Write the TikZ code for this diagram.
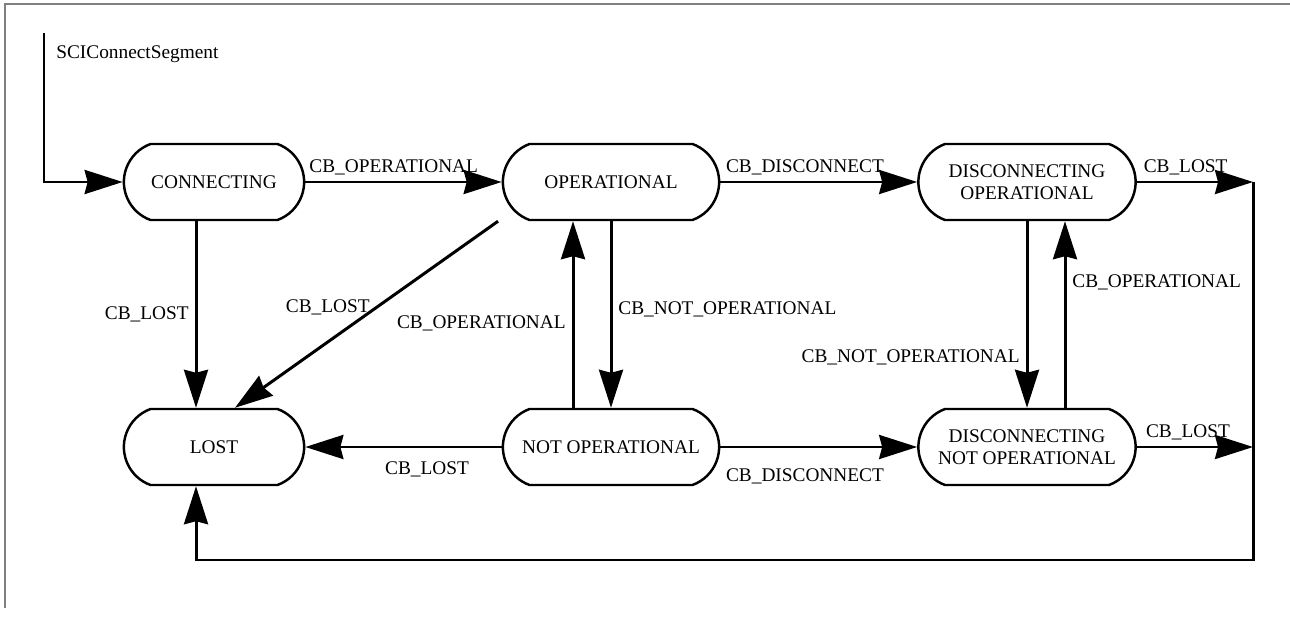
\documentclass[tikz,border=0pt]{standalone}
\usepackage{fontspec}
\setmainfont{Liberation Serif}
\usetikzlibrary{
    arrows.meta,
    shapes.misc,
    calc
}

\tikzset{
    state/.style={draw, line width=1.4pt, rounded rectangle,
        rounded rectangle arc length=140, minimum height=1.52cm,
        align=center, font=\fontsize{11}{12.5}\selectfont},
    trans/.style={line width=1.7pt, -{Stealth[length=0.76cm,width=0.48cm,inset=0.06cm]}},
    every node/.append style={font=\fontsize{11}{13}\selectfont}
}

\begin{document}
\begin{tikzpicture}[x=0.02cm, y=-0.02cm]
    \useasboundingbox (0,0) rectangle (1290,618);
    \draw[gray, line width=0.8pt] (5,608) -- (5,4) -- (1290,4);

    % states
    \node[state, minimum width=3.84cm] (conn) at (214,182) {CONNECTING};
    \node[state, minimum width=4.56cm] (oper) at (611,182) {OPERATIONAL};
    \node[state, minimum width=4.58cm] (discoper) at (1027,182) {DISCONNECTING\\OPERATIONAL};
    \node[state, minimum width=3.84cm] (lost) at (214,447) {LOST};
    \node[state, minimum width=4.56cm] (notoper) at (611,447) {NOT OPERATIONAL};
    \node[state, minimum width=4.58cm] (discnotoper) at (1027,447) {DISCONNECTING\\NOT OPERATIONAL};

    \coordinate (start) at (44,33);
    \coordinate (outtop) at (1253,182);
    \coordinate (outbot) at (1253,447);
    \coordinate (outcorner) at (1253,560);

    % transitions
    \draw[trans] (start) |- node[pos=0.07, right, xshift=1mm]{SCIConnectSegment} (conn.west);
    \draw[trans] (conn.east) -- node[above, pos=0.45]{CB\_OPERATIONAL} (oper.west);
    \draw[trans] (oper.east) -- node[above, pos=0.43]{CB\_DISCONNECT} (discoper.west);
    \draw[trans] (discoper.east) -- node[above, pos=0.42]{CB\_LOST} (outtop);
    \draw[trans] (discnotoper.east) -- node[above, pos=0.44]{CB\_LOST} (outbot);
    \draw[trans] (outtop) -- (outcorner) -| ([xshift=-0.36cm]lost.south);

    \draw[trans] ([xshift=-0.36cm]conn.south) -- node[left]{CB\_LOST} ([xshift=-0.36cm]lost.north);
    \draw[trans] ([xshift=-2.26cm]oper.south) -- node[left, pos=0.46]{CB\_LOST} ([xshift=0.42cm]lost.north);
    \draw[trans] (oper.south) -- node[right, pos=0.47]{CB\_NOT\_OPERATIONAL} (notoper.north);
    \draw[trans] ([xshift=-0.76cm]notoper.north) -- node[left, pos=0.45]{CB\_OPERATIONAL} ([xshift=-0.76cm]oper.south);
    \draw[trans] (notoper.west) -- node[below, pos=0.38, yshift=-4pt]{CB\_LOST} (lost.east);
    \draw[trans] (notoper.east) -- node[below, pos=0.43, yshift=-8pt]{CB\_DISCONNECT} (discnotoper.west);

    \draw[trans] (discoper.south) -- node[left, pos=0.73]{CB\_NOT\_OPERATIONAL} (discnotoper.north);
    \draw[trans] ([xshift=0.76cm]discnotoper.north) -- node[right, pos=0.67]{CB\_OPERATIONAL} ([xshift=0.76cm]discoper.south);
\end{tikzpicture}
\end{document}
